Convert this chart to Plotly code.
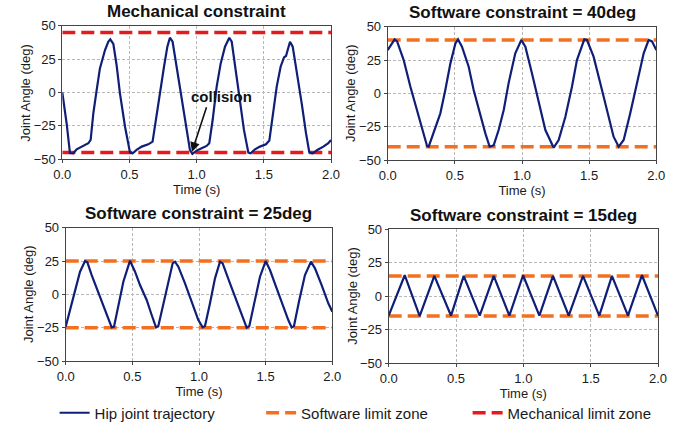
import plotly.graph_objects as go

# ---------------- data ----------------
time_mech = [0.0, 0.032, 0.057, 0.082, 0.107, 0.156, 0.194, 0.211, 0.231, 0.256, 0.280, 0.318, 0.342, 0.357,
             0.380, 0.404, 0.429, 0.467, 0.504,
             0.524, 0.553, 0.591, 0.640, 0.672, 0.702, 0.727, 0.757, 0.782, 0.801, 0.821, 0.851, 0.888, 0.926,
             0.950, 0.968,
             1.0, 1.037, 1.074, 1.094, 1.119, 1.149, 1.179, 1.211, 1.243, 1.261, 1.285, 1.318, 1.352, 1.385,
             1.402, 1.434, 1.471, 1.516, 1.541, 1.566, 1.596, 1.625, 1.650, 1.665, 1.675, 1.695, 1.715, 1.744,
             1.782, 1.814, 1.839,
             1.864, 1.898, 1.943, 1.980, 2.0]
angle_mech = [0, -23, -45.3, -45.5, -42.5, -39.8, -38, -35.5, -15.6, 1.9, 18, 31.8, 38, 39.8,
              36.3, 20.6, -0.6, -25.6, -45,
              -45.5, -43, -40.5, -38.8, -36.8, -15.6, 0.6, 19.3, 34.3, 41, 38, 19.3, -5.6, -30.5,
              -43, -46,
              -43.5, -41.8, -40, -38, -20.6, 4.4, 21.8, 34.3, 41, 38, 21.8, -3.1, -28, -45,
              -45.5, -42.5, -40.5, -38.8, -36, -15.6, 4.4, 19.3, 26.3, 27.3, 30.5, 38, 34.3, 16.8,
              -8.1, -30.5, -45,
              -45.5, -43, -40.5, -38, -35.5]

time_40 = [0.0, 0.052, 0.07, 0.119, 0.169, 0.218, 0.256, 0.293, 0.305, 0.342, 0.392, 0.429, 0.467, 0.504,
           0.524, 0.553, 0.603, 0.64, 0.69, 0.727, 0.759, 0.789, 0.826, 0.864, 0.9, 0.95, 0.995, 1.025,
           1.074, 1.124, 1.174, 1.236, 1.273, 1.323, 1.372, 1.409, 1.464, 1.484, 1.533, 1.583, 1.633, 1.682,
           1.72, 1.757, 1.806, 1.856, 1.906, 1.943, 1.968, 2.0]
angle_40 = [32.5, 40.5, 39, 25, 5, -12.5, -27.5, -39.5, -40, -30, -15, 2.5, 22.5, 37.5,
            40.5, 35, 20, 2.5, -17.5, -30, -40, -39, -27.5, -12.5, 7.5, 30, 40, 35,
            15, -7.5, -27.5, -40.75, -35, -17.5, 5, 25, 40.5, 40, 27.5, 7.5, -12.5, -32.5,
            -40, -35, -15, 7.5, 30, 40, 39, 32.5]

time_25 = [0.0, 0.0325, 0.07, 0.1075, 0.145, 0.1625, 0.195, 0.2325, 0.27, 0.3075, 0.345, 0.3625, 0.395,
           0.4325, 0.4825, 0.52, 0.5575, 0.6075, 0.645, 0.6775, 0.695, 0.7325, 0.77, 0.8025, 0.82, 0.845,
           0.895, 0.945, 0.995, 1.0275, 1.045, 1.0825, 1.12, 1.1575, 1.1775, 1.2325, 1.2825, 1.3275,
           1.3575, 1.3775, 1.42, 1.4575, 1.5, 1.5325, 1.5825, 1.6325, 1.67, 1.695, 1.7125, 1.7525,
           1.795, 1.84, 1.87, 1.92, 1.97, 2.0]
angle_25 = [-24.25, -11.75, 3.25, 17, 25, 24, 14.5, 4.5, -4.25, -15.5, -24.75, -24.25, -9.25,
            9.5, 25.25, 17, 7, -4.25, -15.5, -24.75, -23.75, -6.75, 10.75, 23.25, 24.5, 20.75,
            8.25, -5.5, -19.25, -24.75, -23.75, -6.75, 12, 24.5, 23.25, 8.25, -5.5, -18,
            -25, -23.75, -3, 13.25, 25, 18.25, 4.5, -9.25, -19.25, -24.75, -23.75, -4.25,
            14.5, 24.5, 19.5, 7, -6.75, -13]

time_15 = [0.0, 0.119, 0.23, 0.339, 0.463, 0.557, 0.676, 0.78, 0.896, 0.998, 1.119, 1.22, 1.337,
           1.443, 1.564, 1.658, 1.777, 1.881, 2.0]
angle_15 = [-14.7, 15.5, -15, 15, -14.7, 15, -14.7, 15, -14.7, 15.5, -14.7, 15, -14.7,
            15, -14.7, 15, -14.7, 15.5, -14.7]

limit_span = [0.0, 2.0]
mech_limit = 45
soft_limits = [40, 25, 15]

panel_titles = ["Mechanical constraint", "Software constraint = 40deg",
                "Software constraint = 25deg", "Software constraint = 15deg"]
x_title = "Time (s)"
y_title = "Joint Angle (deg)"
x_ticks = [0.0, 0.5, 1.0, 1.5, 2.0]
y_ticks = [-50, -25, 0, 25, 50]

# ---------------- style ----------------
NAVY = "#0f1f78"
ORANGE = "#f47020"
RED = "#e6191c"
FONT = "Liberation Sans, Arial, sans-serif"
W, H = 694, 425

# pixel boxes (left, right, top, bottom) of each panel
boxes = [(62.3, 331.0, 25.7, 159.3), (387.7, 656.3, 26.7, 160.0),
         (65.7, 332.3, 227.7, 361.0), (388.7, 658.0, 229.0, 363.0)]

fig = go.Figure()

series = [(time_mech, angle_mech), (time_40, angle_40), (time_25, angle_25), (time_15, angle_15)]
limits = [mech_limit] + soft_limits

for i, ((tt, aa), lim) in enumerate(zip(series, limits)):
    ax = "" if i == 0 else str(i + 1)
    is_mech = i == 0
    color = RED if is_mech else ORANGE
    name = "Mechanical limit zone" if is_mech else "Software limit zone"
    show = (i == 0) or (i == 1)
    for k, sgn in enumerate([1, -1]):
        fig.add_trace(go.Scatter(
            x=limit_span, y=[sgn * lim, sgn * lim], mode="lines",
            line=dict(color=color, width=3.5, dash="13px,6px"),
            name=name, showlegend=(show and k == 0), legendgroup=name,
            legendrank=3 if is_mech else 2,
            xaxis="x" + ax, yaxis="y" + ax, hoverinfo="skip"))
    fig.add_trace(go.Scatter(
        x=tt, y=aa, mode="lines", line=dict(color=NAVY, width=2.2),
        name="Hip joint trajectory", showlegend=(i == 0), legendgroup="traj",
        legendrank=1, xaxis="x" + ax, yaxis="y" + ax))

layout = dict(
    width=W, height=H, margin=dict(l=0, r=0, t=0, b=0, autoexpand=False),
    paper_bgcolor="white", plot_bgcolor="white",
    font=dict(family=FONT, size=13, color="#1a1a1a"),
    showlegend=True,
    legend=dict(orientation="h", x=0.0787, xanchor="left", y=1 - 413 / H, yanchor="middle",
                font=dict(size=15, color="#1a1a1a"), entrywidth=161.5,
                traceorder="normal", bgcolor="rgba(0,0,0,0)"),
)

axis_common = dict(showline=True, mirror=True, linecolor="#444", linewidth=1,
                   ticks="outside", ticklen=3, tickcolor="#444", automargin=False,
                   showgrid=True, gridcolor="#b8b8b8", gridwidth=1, griddash="3px,2px",
                   zeroline=False, tickfont=dict(size=13, color="#1a1a1a"))

annotations = []
for i, (l, r, t, b) in enumerate(boxes):
    ax = "" if i == 0 else str(i + 1)
    layout["xaxis" + ax] = dict(axis_common, domain=[l / W, r / W], range=[0, 2],
                                 tickvals=x_ticks, tickformat=".1f", anchor="y" + ax,
                                 title=dict(text=x_title, font=dict(size=13), standoff=2))
    layout["yaxis" + ax] = dict(axis_common, domain=[1 - b / H, 1 - t / H], range=[-50, 50],
                                 tickvals=y_ticks, anchor="x" + ax)
    # y-axis title
    annotations.append(dict(text=y_title, xref="paper", yref="paper", textangle=-90,
                            x=(l - 37) / W, y=1 - (t + b) / 2 / H, xanchor="center",
                            yanchor="middle", showarrow=False, font=dict(size=13, color="#1a1a1a")))
    # panel title
    annotations.append(dict(text="<b>" + panel_titles[i] + "</b>", xref="paper", yref="paper",
                            x=(l + r) / 2 / W, y=1 - (t - 14) / H, xanchor="center",
                            yanchor="middle", showarrow=False, font=dict(size=17, color="#111")))

# collision annotation
annotations.append(dict(text="<b>collision</b>", x=1.186, y=-3, xref="x", yref="y",
                        showarrow=False, font=dict(size=15, color="#111")))
annotations.append(dict(text="", x=0.965, y=-44.5, ax=1.077, ay=-10, xref="x", yref="y",
                        axref="x", ayref="y", showarrow=True, arrowhead=2, arrowsize=1.2,
                        arrowwidth=1.6, arrowcolor="#111"))
layout["annotations"] = annotations

fig.update_layout(**layout)
fig.write_html("out.html", config={"displayModeBar": False},
               post_script="document.body.style.margin='0';document.body.style.overflow='hidden';")
